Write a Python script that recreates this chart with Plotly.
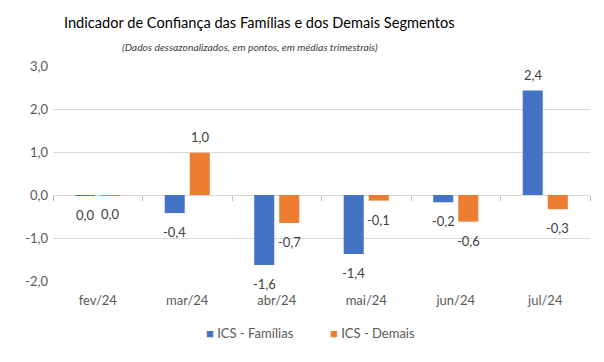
import plotly.graph_objects as go

categories = ["fev/24", "mar/24", "abr/24", "mai/24", "jun/24", "jul/24"]
familias = [-0.02, -0.42, -1.63, -1.37, -0.17, 2.43]
demais = [-0.01, 0.98, -0.65, -0.13, -0.62, -0.33]
labels_familias = ["0,0", "-0,4", "-1,6", "-1,4", "-0,2", "2,4"]
labels_demais = ["0,0", "1,0", "-0,7", "-0,1", "-0,6", "-0,3"]
series_names = ["ICS - Famílias", "ICS - Demais"]
y_ticks = [-2, -1, 0, 1, 2, 3]
y_tick_labels = ["-2,0", "-1,0", "0,0", "1,0", "2,0", "3,0"]

FONT = "Lato"
BLUE = "#4472C4"
ORANGE = "#ED7D31"
GRID = "#D9D9D9"

fig = go.Figure()
fig.add_trace(go.Bar(x=categories, y=familias, name=series_names[0],
                     marker=dict(color=BLUE, line=dict(width=0))))
fig.add_trace(go.Bar(x=categories, y=demais, name=series_names[1],
                     marker=dict(color=ORANGE, line=dict(width=0))))
# invisible helper trace to carry the boundary tick marks on the zero line
fig.add_trace(go.Scatter(x=categories, y=[0] * len(categories), xaxis="x2",
                         mode="markers", marker=dict(opacity=0),
                         showlegend=False, hoverinfo="skip"))

annotations = []
for vals, labs, shift in ((familias, labels_familias, -12.5), (demais, labels_demais, 12.5)):
    for c, v, t in zip(categories, vals, labs):
        pos = v > 0
        annotations.append(dict(
            x=c, y=v, xref="x", yref="y", text=t, showarrow=False,
            xshift=shift, yshift=6 if pos else -9,
            yanchor="bottom" if pos else "top",
            font=dict(family=FONT, size=13, color="#404040")))

annotations.append(dict(x=0.385, y=1.0, xref="paper", yref="paper",
                        yanchor="middle", xanchor="center", yshift=44,
                        text="Indicador de Confiança das Famílias e dos Demais Segmentos",
                        showarrow=False, font=dict(family=FONT, size=14.6, color="#000000")))
annotations.append(dict(x=0.367, y=1.0, xref="paper", yref="paper",
                        yanchor="middle", xanchor="center", yshift=19,
                        text="<i>(Dados dessazonalizados, em pontos, em médias trimestrais)</i>",
                        showarrow=False, font=dict(family=FONT, size=10.3, color="#404040")))

# custom legend (small squares close to the text)
annotations.append(dict(x=0.5, y=0, xref="paper", yref="paper", xanchor="right",
                        yanchor="middle", yshift=-52, xshift=-26, showarrow=False,
                        text=f"<span style='color:{BLUE}'>■</span> {series_names[0]}",
                        font=dict(family=FONT, size=13, color="#595959")))
annotations.append(dict(x=0.5, y=0, xref="paper", yref="paper", xanchor="left",
                        yanchor="middle", yshift=-52, xshift=6, showarrow=False,
                        text=f"<span style='color:{ORANGE}'>■</span> {series_names[1]}",
                        font=dict(family=FONT, size=13, color="#595959")))

fig.update_layout(
    width=604, height=362,
    margin=dict(l=53, r=14, t=66, b=81, autoexpand=False),
    paper_bgcolor="white", plot_bgcolor="white",
    barmode="group", bargap=0.44, bargroupgap=0.2,
    showlegend=False,
    annotations=annotations,
    font=dict(family=FONT),
    xaxis=dict(range=[-0.5, 5.5], showgrid=False, showline=False, ticks="",
               ticklabelstandoff=10,
               tickfont=dict(family=FONT, size=13, color="#595959")),
    xaxis2=dict(overlaying="x", anchor="free", position=0.4, range=[-0.5, 5.5],
                tickson="boundaries", ticks="outside", ticklen=5, tickcolor="#BFBFBF",
                tickwidth=1, showticklabels=False, showgrid=False, showline=False,
                zeroline=False, type="category"),
    yaxis=dict(range=[-2, 3], tickvals=y_ticks, ticktext=y_tick_labels,
               showgrid=True, gridcolor=GRID, gridwidth=1,
               zeroline=True, zerolinecolor=GRID, zerolinewidth=1,
               showline=False, ticks="", ticklabelstandoff=4,
               tickfont=dict(family=FONT, size=13, color="#595959")),
)
fig.write_html("out.html", config={"displayModeBar": False},
               post_script="document.body.style.margin='0';")
